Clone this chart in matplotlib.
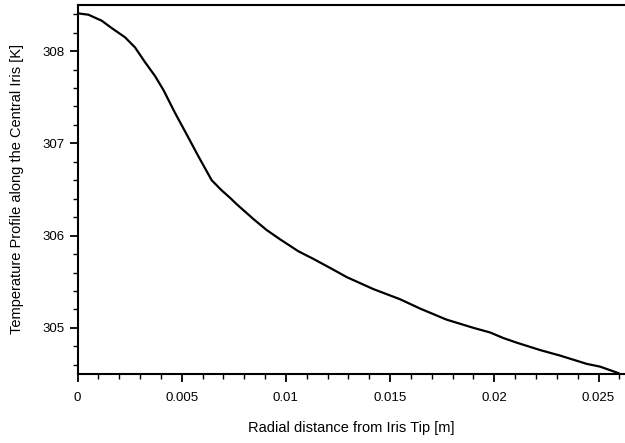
import matplotlib
matplotlib.use("Agg")
import matplotlib.pyplot as plt
from matplotlib.ticker import MultipleLocator, FormatStrFormatter

# Perfil de temperatura
distancia = [0.0, 0.00052, 0.00116, 0.00164, 0.00228, 0.00276, 0.00324, 0.00372,
             0.00412, 0.00468, 0.00516, 0.0058, 0.00644, 0.00692, 0.00732, 0.00764,
             0.00844, 0.00908, 0.00972, 0.0106, 0.0113, 0.01212, 0.01292, 0.0142,
             0.01548, 0.01643, 0.0177, 0.019, 0.0198, 0.02043, 0.02107, 0.02219,
             0.02315, 0.02443, 0.02507, 0.02595]
temperatura = [308.41, 308.395, 308.33, 308.25, 308.15, 308.04, 307.88, 307.73,
               307.58, 307.33, 307.13, 306.86, 306.60, 306.49, 306.41, 306.34,
               306.18, 306.06, 305.96, 305.83, 305.75, 305.65, 305.55, 305.42,
               305.31, 305.21, 305.09, 305.0, 304.95, 304.89, 304.84, 304.76,
               304.70, 304.61, 304.58, 304.51]

plt.rcParams['font.family'] = ['Liberation Sans', 'DejaVu Sans']

fig = plt.figure(figsize=(6.25, 4.43), dpi=100)
ax = fig.add_axes([77.5 / 625, 1 - 374 / 443, 1 - 77.5 / 625, (374 - 5) / 443])

ax.plot(distancia, temperatura, color='black', linewidth=1.6)

ax.set_xlim(0, 0.02627)
ax.set_ylim(304.5, 308.5)

ax.xaxis.set_major_locator(MultipleLocator(0.005))
ax.xaxis.set_minor_locator(MultipleLocator(0.001))
ax.yaxis.set_major_locator(MultipleLocator(1))
ax.yaxis.set_minor_locator(MultipleLocator(0.2))
ax.xaxis.set_major_formatter(plt.FuncFormatter(lambda v, p: f"{v:g}"))
ax.yaxis.set_major_formatter(FormatStrFormatter('%d'))

ax.spines['right'].set_visible(False)
for s in ['left', 'bottom', 'top']:
    ax.spines[s].set_linewidth(1.5)

ax.tick_params(which='major', direction='out', length=6, width=1.3, labelsize=9.5)
ax.tick_params(which='minor', direction='out', length=3.5, width=1.0)
ax.tick_params(axis='x', which='major', pad=7)
ax.tick_params(axis='y', which='major', pad=3.5)
ax.tick_params(top=False, right=False, which='both')

ax.set_xlabel('Radial distance from Iris Tip [m]', fontsize=10.5, labelpad=12)
ax.set_ylabel('Temperature Profile along the Central Iris [K]', fontsize=10.5, labelpad=13)

fig.savefig('out.png', dpi=100)
